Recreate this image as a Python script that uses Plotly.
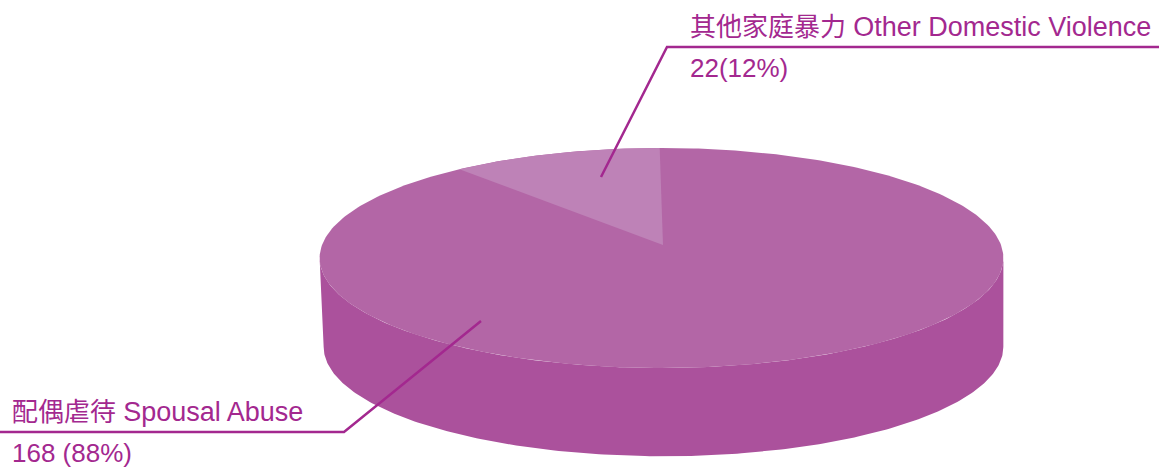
import numpy as np
import plotly.graph_objects as go

# Data
categories_zh = ["其他家庭暴力", "配偶虐待"]
categories_en = ["Other Domestic Violence", "Spousal Abuse"]
values = [22, 168]
value_labels = ["22(12%)", "168 (88%)"]

# Styling / projection (page pixels)
W, H = 1159, 468
TOP = "#B366A6"
SIDE = "#AB519C"
LIGHT = "#BE82B7"
INK = "#A3288F"
FONT = "Liberation Sans, Arial, Noto Sans CJK TC, sans-serif"
FONT_SIZE = 26
LATIN_SIZE = 27
CX, CY, D, A, C = 661.5, 245.0, 339.5, 108.5, 0.118
APEX_X = 663.0
DEPTH = 89.0
WALL_DX = 2.0
ROT = 0.006
SWEEP = 0.97


def project(theta, dy=0.0, shrink=1.0, dx=0.0):
    """Perspective view of a unit circle; theta runs anticlockwise from the far point."""
    u, v = -np.sin(theta), np.cos(theta)
    w = 1 + C * v
    return CX + dx + shrink * D * u / w, CY + dy - shrink * A * v / w


share = values[0] / sum(values) * 2 * np.pi * SWEEP
t_rim = np.linspace(0, 2 * np.pi, 361)
t_front = np.linspace(np.pi / 2 + 0.118, 3 * np.pi / 2 - 0.118, 241)
x_top, y_top = project(t_rim)
x_f, y_f = project(t_front)
x_b, y_b = project(t_front, dy=DEPTH, shrink=0.994, dx=WALL_DX)
t_slice = np.linspace(ROT, share, 60)
x_s, y_s = project(t_slice)

fig = go.Figure()
fig.add_scatter(x=np.r_[x_f, x_b[::-1]], y=np.r_[y_f, y_b[::-1]], mode="lines", fill="toself",
                fillcolor=SIDE, line=dict(width=0), hoverinfo="skip", showlegend=False)
fig.add_scatter(x=x_top, y=y_top, mode="lines", fill="toself", fillcolor=TOP,
                line=dict(width=0), hoverinfo="skip", showlegend=False)
fig.add_scatter(x=np.r_[APEX_X, x_s], y=np.r_[CY, y_s], mode="lines", fill="toself", fillcolor=LIGHT,
                line=dict(width=0), hoverinfo="skip", showlegend=False)

# Leader lines
fig.add_scatter(x=[W, 667, 601], y=[47, 47, 177], mode="lines",
                line=dict(color=INK, width=2.5), hoverinfo="skip", showlegend=False)
fig.add_scatter(x=[0, 344, 481], y=[432, 432, 321], mode="lines",
                line=dict(color=INK, width=2.5), hoverinfo="skip", showlegend=False)


def cat(i):
    return f'{categories_zh[i]} <span style="font-size:{LATIN_SIZE}px">{categories_en[i]}</span>'


labels = [
    (690, 27, cat(0)),
    (690, 68, value_labels[0]),
    (12, 412, cat(1)),
    (12, 453, value_labels[1]),
]
for x, y, t in labels:
    fig.add_annotation(x=x, y=y, text=t, showarrow=False, xanchor="left", yanchor="middle",
                       xshift=-2, font=dict(family=FONT, size=FONT_SIZE, color=INK))

fig.update_layout(
    width=W, height=H, margin=dict(l=0, r=0, t=0, b=0), showlegend=False,
    paper_bgcolor="white", plot_bgcolor="white",
    xaxis=dict(range=[0, W], visible=False, fixedrange=True),
    yaxis=dict(range=[H, 0], visible=False, fixedrange=True),
)
fig.write_html("out.html", config={"displayModeBar": False},
               post_script="document.body.style.margin='0';document.documentElement.style.overflow='hidden';")
